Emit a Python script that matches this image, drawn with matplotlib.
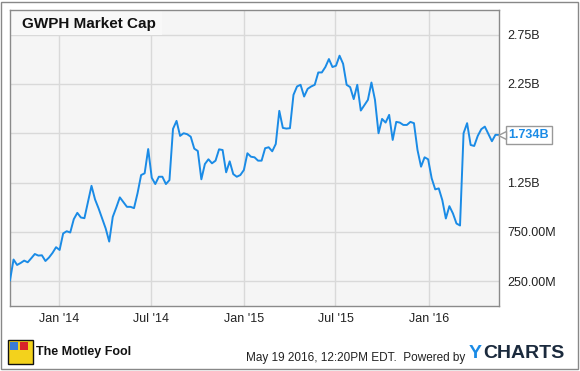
import pandas as pd
import matplotlib
matplotlib.use("Agg")
import matplotlib.pyplot as plt
from matplotlib.patches import Rectangle
from matplotlib.transforms import offset_copy

plt.rcParams['font.family'] = ['Liberation Sans', 'DejaVu Sans']

# weekly market cap, billions of USD
market_cap = [
    0.260, 0.471, 0.416, 0.436, 0.460, 0.443, 0.484, 0.527, 0.511, 0.514,
    0.456, 0.491, 0.538, 0.596, 0.568, 0.735, 0.758, 0.745, 0.880, 0.944,
    0.897, 0.890, 1.056, 1.218, 1.080, 0.989, 0.887, 0.786, 0.653, 0.903,
    0.999, 1.101, 1.053, 1.005, 1.005, 0.992, 1.144, 1.327, 1.345, 1.591,
    1.300, 1.236, 1.310, 1.310, 1.236, 1.276, 1.795, 1.876, 1.724, 1.751,
    1.741, 1.716, 1.595, 1.571, 1.284, 1.439, 1.487, 1.446, 1.473, 1.588,
    1.581, 1.355, 1.466, 1.337, 1.310, 1.327, 1.378, 1.548, 1.513, 1.507,
    1.473, 1.473, 1.599, 1.609, 1.568, 1.642, 1.978, 1.805, 1.798, 1.802,
    2.140, 2.225, 2.242, 2.123, 2.201, 2.225, 2.242, 2.367, 2.367, 2.422,
    2.503, 2.422, 2.435, 2.537, 2.455, 2.242, 2.218, 2.097, 2.242, 1.981,
    2.036, 2.089, 2.265, 2.089, 1.751, 1.896, 1.859, 1.937, 1.683, 1.866,
    1.859, 1.835, 1.835, 1.866, 1.853, 1.581, 1.412, 1.507, 1.487, 1.294,
    1.182, 1.192, 1.073, 0.887, 1.012, 0.938, 0.836, 0.816, 1.751, 1.853,
    1.632, 1.622, 1.724, 1.792, 1.818, 1.744, 1.670, 1.735, 1.734,
]
last_date = "2016-05-19"

y_ticks = [0.25, 0.75, 1.25, 1.75, 2.25, 2.75]
# the 1.75B label sits under the last-value flag, so it is left blank
y_labels = ["250.00M", "750.00M", "1.25B", "", "2.25B", "2.75B"]
x_ticks = ["2014-01-01", "2014-07-01", "2015-01-01", "2015-07-01", "2016-01-01"]
x_labels = ["Jan '14", "Jul '14", "Jan '15", "Jul '15", "Jan '16"]

dates = pd.date_range(end=last_date, periods=len(market_cap), freq="7D")

blue = '#1a8be6'
W, H = 580, 371

fig = plt.figure(figsize=(W / 100, H / 100), dpi=100)
ax = fig.add_axes([10 / W, 65 / H, 489 / W, 296 / H])
ax.set_facecolor('#f5f5f5')
ax.plot(dates, market_cap, color=blue, lw=1.4, zorder=3)
ax.set_xlim(dates[0], dates[-1])
ax.set_ylim(0, 3.0)

ax.yaxis.tick_right()
ax.set_yticks(y_ticks, y_labels)
ax.set_xticks(pd.to_datetime(x_ticks), x_labels)
ax.tick_params(length=0, labelsize=9, colors='#222222')
ax.tick_params(axis='y', pad=6)
ax.tick_params(axis='x', pad=5)
ax.grid(color='#d9d9d9', lw=1)
ax.set_axisbelow(True)
for s in ax.spines.values():
    s.set_color('#8a8a8a')
    s.set_linewidth(1)

# title box in the top-left corner
ax.add_patch(Rectangle((0, 1 - 25 / 296), 152 / 489, 25 / 296, transform=ax.transAxes,
                       fc='#f8f8f8', ec='none', zorder=1.5))
ax.text(12 / 489, 1 - 14 / 296, "GWPH Market Cap", transform=ax.transAxes,
        fontsize=11, fontweight='bold', va='center', color='#111111', zorder=4)

# last value flag
ax.annotate(f"{market_cap[-1]:.3f}B", xy=(dates[-1], market_cap[-1]), xytext=(7, 0),
            textcoords='offset points', ha='left', va='center', color=blue,
            fontsize=9, fontweight='bold', annotation_clip=False, zorder=5,
            bbox=dict(boxstyle='square,pad=0.25', fc='white', ec='#999999', lw=1))
ax.plot([dates[-1]], [market_cap[-1]], marker='<', ms=6, mfc='white', mec='#999999',
        transform=offset_copy(ax.transData, fig=fig, x=3, y=0, units='dots'),
        clip_on=False, zorder=6)

# footer
fig.patches.append(Rectangle((8 / W, 1 - 364 / H), 25 / W, 24 / H, transform=fig.transFigure,
                             fc='#f3d21c', ec='#111111', lw=1))
fig.patches.append(Rectangle((10 / W, 1 - 350 / H), 8 / W, 8 / H, transform=fig.transFigure,
                             fc='#3a7bd5', ec='none'))
fig.patches.append(Rectangle((20 / W, 1 - 350 / H), 8 / W, 8 / H, transform=fig.transFigure,
                             fc='#d8232a', ec='none'))
fig.text(36 / W, 1 - 352 / H, "The Motley Fool", fontsize=9, fontweight='bold',
         va='center', color='#111111')
fig.text(465 / W, 1 - 358 / H, "May 19 2016, 12:20PM EDT.  Powered by", ha='right',
         va='center', fontsize=8.5, color='#222222')
fig.text(469 / W, 1 - 354 / H, "Y", fontsize=14, fontweight='bold', color=blue,
         va='center')
fig.text((469 + 14) / W, 1 - 354 / H, "CHARTS", fontsize=14, fontweight='bold',
         color='#1b2a3d', va='center')

fig.patches.append(Rectangle((1 / W, 2 / H), 577 / W, 367 / H, transform=fig.transFigure,
                             fill=False, ec='#888888', lw=1))

fig.savefig('out.png', dpi=100)
